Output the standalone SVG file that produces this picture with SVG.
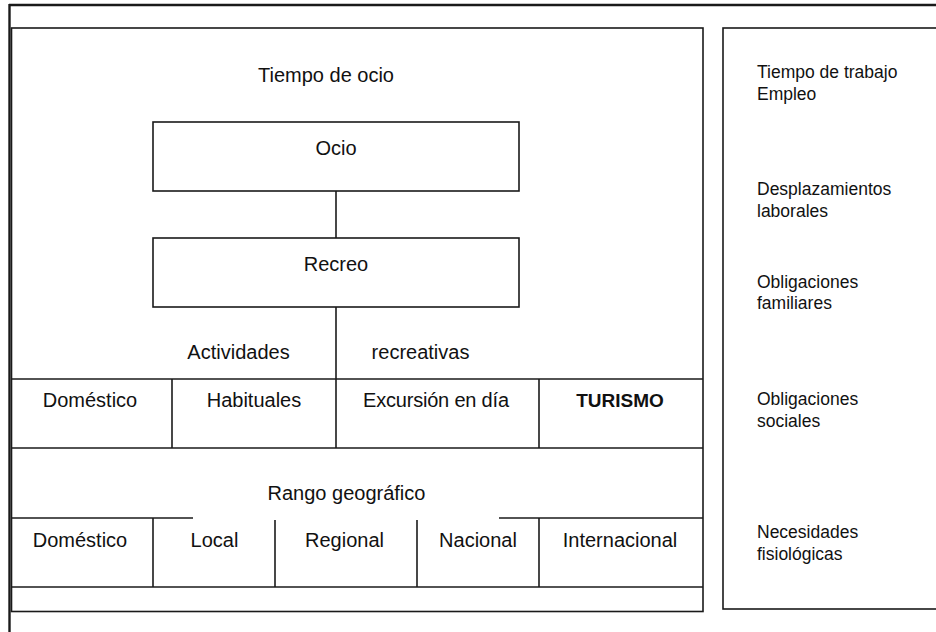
<svg xmlns="http://www.w3.org/2000/svg" width="936" height="632" viewBox="0 0 936 632">
<style>
  .ln{stroke:#1a1a1a;stroke-width:1.6;fill:none}
  .frame{stroke:#1a1a1a;stroke-width:2.4;fill:none}
  .box{stroke:#1a1a1a;stroke-width:1.6;fill:#fff}
  .t{font-family:"Liberation Sans",Arial,sans-serif;font-size:20px;fill:#111;text-anchor:middle}
  .b{font-weight:bold;font-size:19px}
  .r{font-family:"Liberation Sans",Arial,sans-serif;font-size:17.5px;fill:#111}
</style>
<rect width="936" height="632" fill="#fff"/>
<g id="frame">
  <line class="frame" x1="9" y1="5" x2="936" y2="5"/>
  <line class="frame" x1="9.5" y1="4" x2="9.5" y2="632"/>
  <rect class="ln" x="11.5" y="28" width="691.5" height="583.5"/>
  <rect class="ln" x="723" y="28" width="220" height="581"/>
</g>
<g id="connectors">
  <line class="ln" x1="336" y1="191" x2="336" y2="238"/>
  <line class="ln" x1="336" y1="307" x2="336" y2="448"/>
</g>
<g id="tiempo-ocio"><text class="t" x="326" y="82">Tiempo de ocio</text></g>
<g id="ocio">
  <rect class="box" x="153" y="122" width="366" height="69"/>
  <text class="t" x="336" y="155">Ocio</text>
</g>
<g id="recreo">
  <rect class="box" x="153" y="238" width="366" height="69"/>
  <text class="t" x="336" y="271">Recreo</text>
</g>
<g id="actividades">
  <text class="t" x="238.5" y="359">Actividades</text>
  <text class="t" x="420.5" y="359">recreativas</text>
</g>
<g id="actividades-row">
  <line class="ln" x1="11" y1="379" x2="703" y2="379"/>
  <line class="ln" x1="11" y1="448" x2="703" y2="448"/>
  <line class="ln" x1="172" y1="379" x2="172" y2="448"/>
  <line class="ln" x1="539" y1="379" x2="539" y2="448"/>
</g>
<g id="domestico-1"><text class="t" x="90" y="407">Doméstico</text></g>
<g id="habituales"><text class="t" x="254" y="407">Habituales</text></g>
<g id="excursion"><text class="t" x="436" y="407" textLength="146">Excursión en día</text></g>
<g id="turismo"><text class="t b" x="620" y="407">TURISMO</text></g>
<g id="rango"><text class="t" x="346.5" y="500">Rango geográfico</text></g>
<g id="geo-row">
  <line class="ln" x1="11" y1="518" x2="193" y2="518"/>
  <line class="ln" x1="499" y1="518" x2="703" y2="518"/>
  <line class="ln" x1="153" y1="518" x2="153" y2="587"/>
  <line class="ln" x1="275" y1="520" x2="275" y2="587"/>
  <line class="ln" x1="417" y1="520" x2="417" y2="587"/>
  <line class="ln" x1="539" y1="518" x2="539" y2="587"/>
  <line class="ln" x1="11" y1="587" x2="703" y2="587"/>
</g>
<g id="domestico-2"><text class="t" x="80" y="547">Doméstico</text></g>
<g id="local"><text class="t" x="214.5" y="547">Local</text></g>
<g id="regional"><text class="t" x="344.5" y="547">Regional</text></g>
<g id="nacional"><text class="t" x="478" y="547">Nacional</text></g>
<g id="internacional"><text class="t" x="620" y="547">Internacional</text></g>
<g id="trabajo"><text class="r" x="757" y="78">Tiempo de trabajo</text><text class="r" x="757" y="100">Empleo</text></g>
<g id="desplazamientos"><text class="r" x="757" y="195">Desplazamientos</text><text class="r" x="757" y="217">laborales</text></g>
<g id="familiares"><text class="r" x="757" y="288">Obligaciones</text><text class="r" x="757" y="309">familiares</text></g>
<g id="sociales"><text class="r" x="757" y="405">Obligaciones</text><text class="r" x="757" y="427">sociales</text></g>
<g id="fisiologicas"><text class="r" x="757" y="538">Necesidades</text><text class="r" x="757" y="560">fisiológicas</text></g>
</svg>
